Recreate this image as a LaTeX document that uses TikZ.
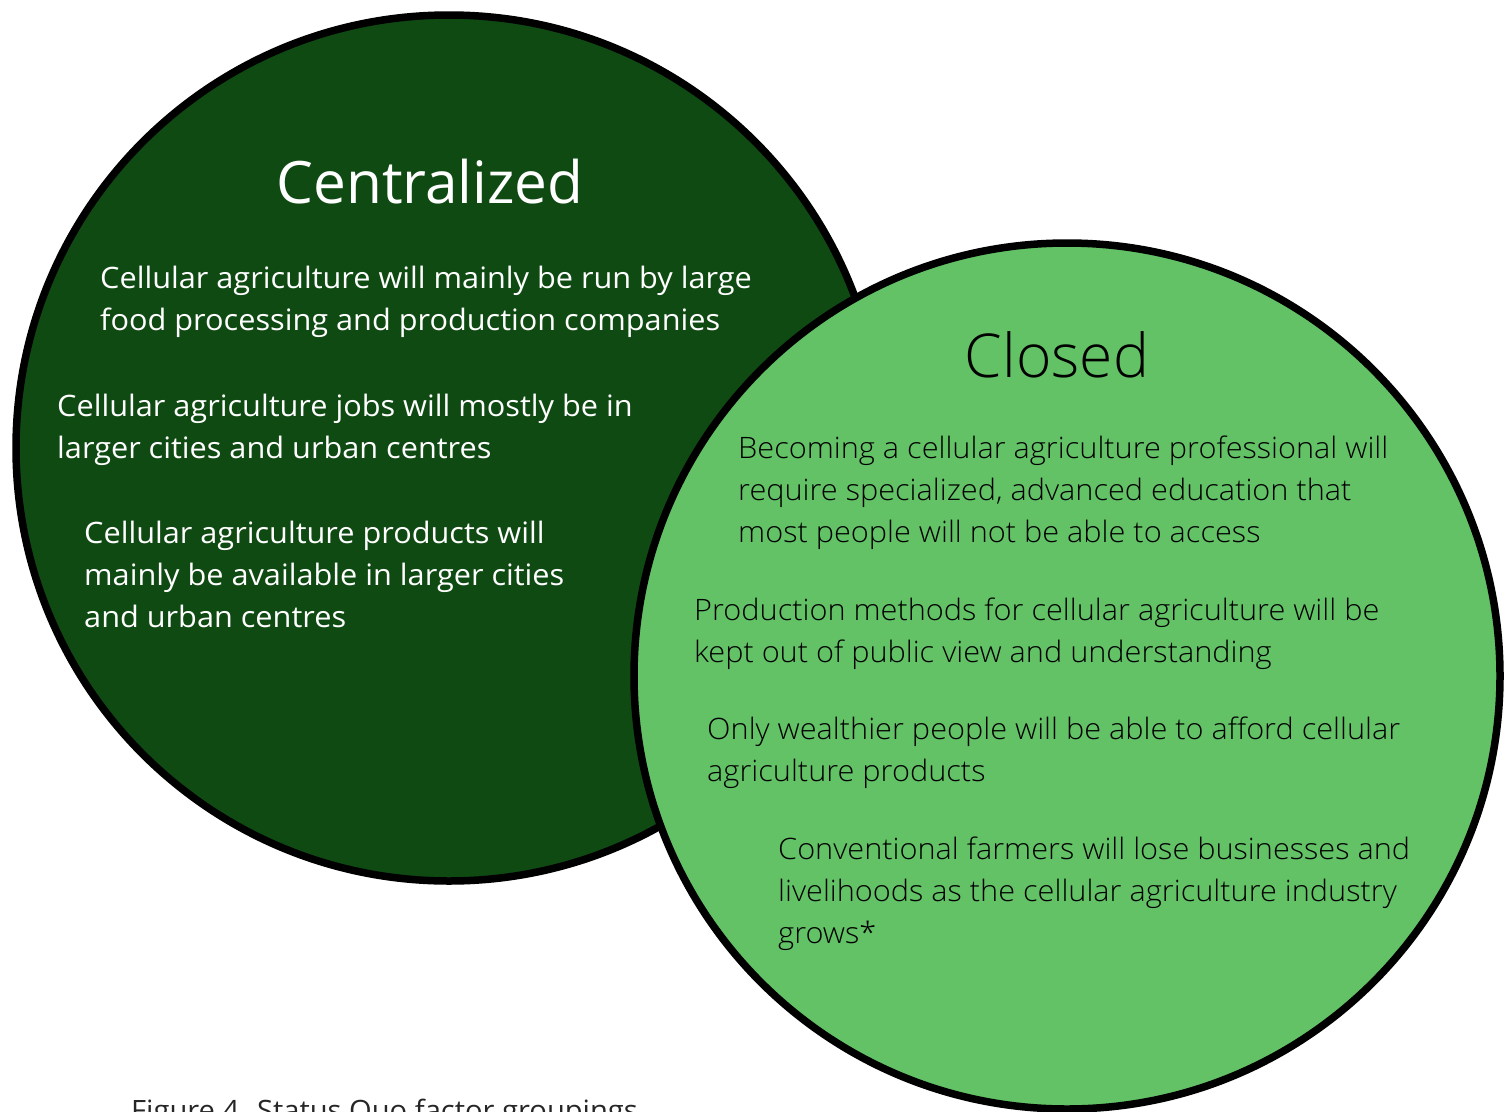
\documentclass[tikz,border=0pt]{standalone}
\usepackage{fontspec}
\setmainfont{Open Sans}
\newfontfamily\lightfont{Open Sans Light}
\newfontfamily\bodyfont[FakeStretch=1.04]{Open Sans}
\newfontfamily\bodylight[FakeStretch=1.04]{Open Sans Light}
\usepackage{tikz}
\usetikzlibrary{positioning}

\definecolor{darkgreen}{RGB}{16,74,19}
\definecolor{lightgreen}{RGB}{99,194,102}

\begin{document}
\begin{tikzpicture}[x=1pt,y=-1pt,
    group/.style={circle,draw=black,line width=7.5pt,minimum size=866pt,inner sep=0pt},
    title/.style={inner sep=0pt,anchor=base},
    factor/.style={inner sep=0pt,anchor=north west,align=left}]
    \useasboundingbox (0,0) rectangle (1511,1111);
    \node[group,fill=darkgreen] (cent) at (449,448) {};
    \node[group,fill=lightgreen] (clos) at (1067,676) {};
    % left group
    \node[title,text=white,font=\fontsize{58.5}{70}\selectfont] (centT) at (430,203) {Centralized};
    \node[factor,text=white,font=\fontsize{29.5}{41.8}\bodyfont] (c1) at (100,266) {Cellular agriculture will mainly be run by large\\food processing and production companies};
    \node[factor,text=white,font=\fontsize{29.5}{41.8}\bodyfont] (c2) at (57,394) {Cellular agriculture jobs will mostly be in\\larger cities and urban centres};
    \node[factor,text=white,font=\fontsize{29.5}{41.8}\bodyfont] (c3) at (84,521) {Cellular agriculture products will\\mainly be available in larger cities\\and urban centres};
    % right group
    \node[title,text=black,font=\fontsize{60.5}{70}\lightfont] (closT) at (1057,377) {Closed};
    \node[factor,text=black,font=\fontsize{29.5}{41.8}\bodylight] (k1) at (738,436) {Becoming a cellular agriculture professional will\\require specialized, advanced education that\\most people will not be able to access};
    \node[factor,text=black,font=\fontsize{29.5}{41.8}\bodylight] (k2) at (694,598) {Production methods for cellular agriculture will be\\kept out of public view and understanding};
    \node[factor,text=black,font=\fontsize{29.5}{41.8}\bodylight] (k3) at (707,717) {Only wealthier people will be able to afford cellular\\agriculture products};
    \node[factor,text=black,font=\fontsize{29.5}{41.8}\bodylight] (k4) at (778,837) {Conventional farmers will lose businesses and\\livelihoods as the cellular agriculture industry\\grows*};
    % caption
    \node[inner sep=0pt,anchor=base west,text=black!85,font=\fontsize{28}{30}\bodyfont] (cap) at (131,1120) {Figure 4. Status Quo factor groupings};
\end{tikzpicture}
\end{document}
